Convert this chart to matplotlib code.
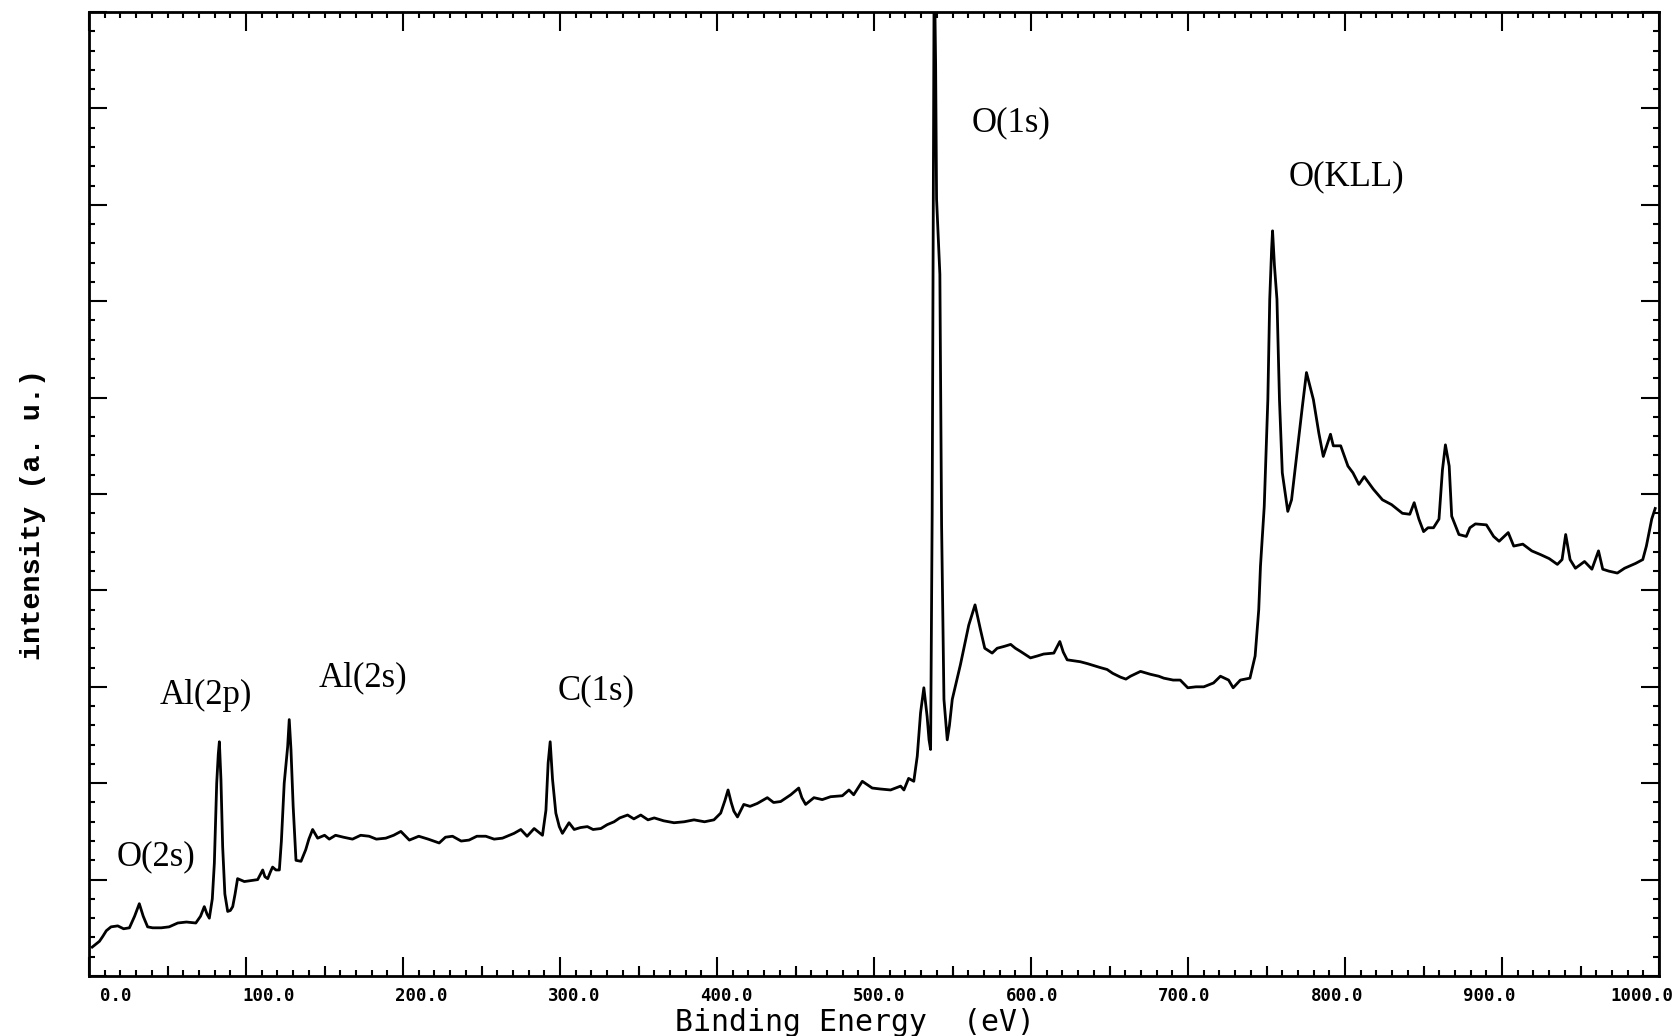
import matplotlib
matplotlib.use("Agg")
import matplotlib.pyplot as plt
from matplotlib.ticker import MultipleLocator, FixedLocator, FormatStrFormatter

# XPS survey spectrum (intensity in axis divisions)
energy = [
    2, 6.6, 8.7, 11, 14, 18.3, 22, 25.7, 29, 32, 34.5, 37.3, 40.5, 46, 51, 56.5,
    62, 68, 71, 73.4, 75.2, 76.6, 78.5, 79.8, 81.3, 82.3, 83, 84, 85.1, 86.5,
    88.3, 90, 91.5, 93, 94.6, 98.9, 103, 107.4, 109, 110.6, 112, 113.8, 115.5,
    116.9, 119, 121.2, 122.5, 124.3, 126.5, 127.5, 128.6, 130, 131.8, 135, 138,
    140, 142.4, 145.6, 150, 153, 157, 162, 167.8, 173, 178.4, 183, 189, 194,
    198.6, 204, 210, 216, 223, 227, 231.5, 237, 242, 247, 252.7, 258, 263.3,
    270.7, 275, 279, 283.5, 288.8, 291, 292.4, 293.7, 295.2, 297.3, 299.5,
    301.5, 305.7, 309, 313, 317.4, 321, 326, 330, 334.4, 338, 343, 347, 351.4,
    356, 360, 366, 372.6, 379, 385.3, 392, 398, 402.3, 405, 407, 409, 410.7,
    413, 417, 421, 425.6, 432, 436, 440.5, 446.9, 452, 454, 456.4, 461.7, 467,
    472.3, 479.8, 484, 487, 492.5, 498.8, 504, 510.5, 516.9, 519, 522, 525.3,
    527.5, 529.6, 531.7, 533.8, 535, 536, 537, 537.7, 538.3, 539.2, 539.8,
    541.9, 543, 544.5, 546.6, 548, 549.8, 555, 560.3, 564.3, 567.8, 570.5,
    575.2, 578.4, 583, 587, 590, 593, 599.6, 604, 608, 614.5, 618.3, 620.5,
    623, 631.4, 636, 640, 644, 648.4, 652, 657, 660.4, 663.3, 669.7, 676,
    681.3, 684.5, 690.5, 695, 699.8, 705, 710, 716.2, 720.6, 725.8, 728.7,
    733.3, 739.4, 742.7, 745, 746.1, 748.5, 750.8, 752, 753.2, 753.8, 755,
    756.6, 758.2, 760, 763.5, 765.9, 769.4, 772.8, 775.4, 779.8, 783.3, 786.1,
    790.7, 792.5, 797.2, 801.8, 805, 808.8, 812.2, 818, 823.8, 829.6, 836.5,
    841.2, 844, 847, 850, 852.8, 856.3, 859.8, 862, 863.9, 866.3, 867.9, 872.5,
    877.2, 879.5, 883, 890, 894.6, 898.1, 903.9, 907.4, 913.2, 918.9, 924.7,
    930, 935.2, 938.2, 940.5, 943.3, 946.7, 952.5, 957.2, 961.4, 964.1, 968,
    973.4, 978, 985, 989.6, 991.9, 995.3, 997.5,
]
intensity = [
    0.30, 0.36, 0.41, 0.47, 0.51, 0.52, 0.49, 0.50, 0.62, 0.75, 0.62, 0.51,
    0.50, 0.50, 0.51, 0.55, 0.56, 0.55, 0.62, 0.72, 0.64, 0.60, 0.80, 1.17,
    2.00, 2.30, 2.43, 2.04, 1.34, 0.85, 0.67, 0.68, 0.72, 0.85, 1.01, 0.98,
    0.99, 1.00, 1.05, 1.10, 1.03, 1.01, 1.08, 1.13, 1.10, 1.10, 1.40, 2.00,
    2.38, 2.66, 2.35, 1.76, 1.20, 1.19, 1.31, 1.42, 1.52, 1.43, 1.46, 1.42,
    1.46, 1.44, 1.42, 1.46, 1.45, 1.42, 1.43, 1.46, 1.50, 1.41, 1.45, 1.42,
    1.38, 1.44, 1.45, 1.40, 1.41, 1.45, 1.45, 1.42, 1.43, 1.48, 1.52, 1.45,
    1.53, 1.46, 1.72, 2.21, 2.43, 2.04, 1.69, 1.55, 1.48, 1.59, 1.52, 1.54,
    1.55, 1.52, 1.53, 1.57, 1.60, 1.64, 1.67, 1.63, 1.67, 1.62, 1.64, 1.61,
    1.59, 1.60, 1.62, 1.60, 1.62, 1.69, 1.82, 1.93, 1.80, 1.71, 1.65, 1.78,
    1.76, 1.79, 1.85, 1.80, 1.81, 1.88, 1.95, 1.85, 1.78, 1.85, 1.83, 1.86,
    1.87, 1.93, 1.88, 2.02, 1.95, 1.94, 1.93, 1.97, 1.93, 2.05, 2.02, 2.28,
    2.73, 2.99, 2.69, 2.45, 2.35, 4.80, 8.06, 10.6, 9.46, 8.06, 7.28, 4.68,
    2.87, 2.45, 2.60, 2.87, 3.23, 3.64, 3.85, 3.59, 3.40, 3.35, 3.40, 3.42,
    3.44, 3.40, 3.37, 3.30, 3.32, 3.34, 3.35, 3.47, 3.36, 3.28, 3.26, 3.24,
    3.22, 3.20, 3.18, 3.14, 3.10, 3.08, 3.11, 3.16, 3.13, 3.11, 3.09, 3.07,
    3.07, 2.99, 3.00, 3.00, 3.04, 3.11, 3.07, 2.99, 3.07, 3.09, 3.32, 3.80,
    4.25, 4.87, 5.98, 7.02, 7.54, 7.73, 7.37, 7.02, 5.98, 5.22, 4.82, 4.94,
    5.43, 5.91, 6.26, 5.98, 5.63, 5.39, 5.62, 5.50, 5.50, 5.29, 5.22, 5.10,
    5.18, 5.05, 4.94, 4.89, 4.80, 4.79, 4.91, 4.74, 4.61, 4.65, 4.65, 4.74,
    5.25, 5.51, 5.29, 4.77, 4.58, 4.56, 4.65, 4.69, 4.68, 4.56, 4.51, 4.60,
    4.46, 4.48, 4.41, 4.37, 4.33, 4.27, 4.32, 4.58, 4.32, 4.23, 4.30, 4.22,
    4.41, 4.22, 4.20, 4.18, 4.23, 4.28, 4.32, 4.46, 4.74, 4.85,
]

peak_labels = ["O(2s)", "Al(2p)", "Al(2s)", "C(1s)", "O(1s)", "O(KLL)"]
peak_label_x = [42.7, 74.5, 174.4, 322.7, 587, 800.8]
peak_label_y = [1.24, 2.91, 3.09, 2.96, 8.85, 8.29]

tick_values = [0, 100, 200, 300, 400, 500, 600, 700, 800, 900, 1000]
mid_ticks = [50, 150, 250, 350, 450, 550, 650, 750, 850, 950]


def label_fwd(x):
    # printed tick labels drift slightly from the tick marks on the scan
    return (x - 17.2) / 0.972


def label_inv(s):
    return 17.2 + 0.972 * s


def main() -> None:
    fig = plt.figure(figsize=(16.74, 10.36), dpi=100)
    ax = fig.add_axes([0.0532, 0.0579, 0.9379, 0.9305])

    ax.plot(energy, intensity, color="black", lw=2.0)
    ax.set_xlim(0, 1000)
    ax.set_ylim(0, 10)

    for s in ax.spines.values():
        s.set_linewidth(2.0)

    ax.xaxis.set_major_locator(MultipleLocator(100))
    ax.xaxis.set_minor_locator(MultipleLocator(10))
    ax.yaxis.set_major_locator(MultipleLocator(1))
    ax.yaxis.set_minor_locator(MultipleLocator(0.2))
    ax.tick_params(which="both", direction="in", top=True, right=True,
                   labelbottom=False, labelleft=False, width=1.5)
    ax.tick_params(axis="x", which="major", length=14)
    ax.tick_params(axis="y", which="major", length=13)
    ax.tick_params(which="minor", length=4.3)

    # medium ticks at the 50 eV marks
    mid = ax.secondary_xaxis("bottom")
    mid.xaxis.set_major_locator(FixedLocator(mid_ticks))
    mid.tick_params(direction="in", length=7.5, width=1.5, labelbottom=False)
    mid.spines["bottom"].set_visible(False)

    # tick labels
    lab = ax.secondary_xaxis("bottom", functions=(label_fwd, label_inv))
    lab.xaxis.set_major_locator(FixedLocator(tick_values))
    lab.xaxis.set_major_formatter(FormatStrFormatter("%.1f"))
    lab.tick_params(length=0, pad=8)
    lab.spines["bottom"].set_visible(False)
    for t in lab.get_xticklabels():
        t.set_fontfamily("DejaVu Sans Mono")
        t.set_fontweight("bold")
        t.set_fontsize(12.5)

    for txt, x, y in zip(peak_labels, peak_label_x, peak_label_y):
        ax.text(x, y, txt, family="Liberation Serif", fontsize=25,
                ha="center", va="center")

    ax.set_ylabel("intensity (a. u.)", family="Liberation Mono",
                  fontweight="bold", fontsize=20.5, va="center")
    ax.yaxis.set_label_coords(-0.0354, 0.479)

    ax.set_xlabel("Binding Energy  (eV)", family="DejaVu Sans Mono",
                  fontsize=21.5, va="top")
    ax.xaxis.set_label_coords(0.4876, -0.033)

    fig.savefig("out.png", dpi=100)
    plt.close(fig)


if __name__ == "__main__":
    main()
